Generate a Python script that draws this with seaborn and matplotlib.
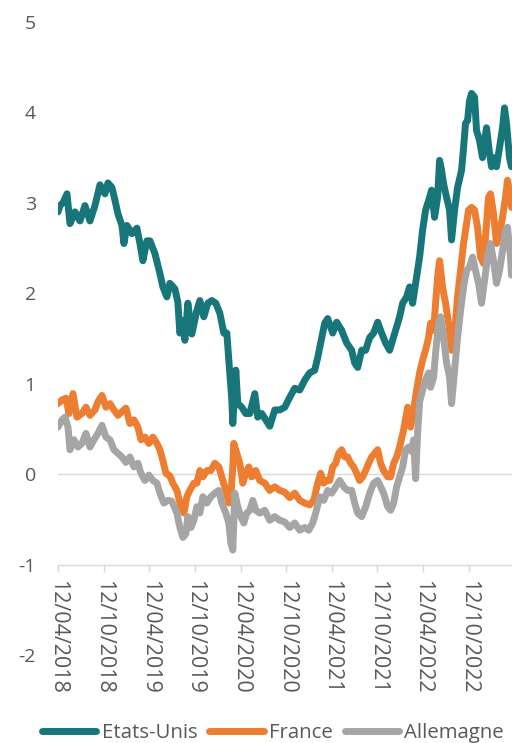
import pandas as pd
import numpy as np
import matplotlib
matplotlib.use('Agg')
import matplotlib.pyplot as plt
import matplotlib.dates as mdates
import seaborn as sns

# Taux souverains a 10 ans (%), lus sur le graphique
# jours comptes depuis le 12/04/2018
start = pd.Timestamp('2018-04-12')

us_days = [0, 8, 20, 36, 48, 68, 88, 108, 128, 148, 168, 188, 200, 216, 228, 240, 256, 264, 276,
           296, 316, 328, 340, 356, 368, 388, 408, 420, 436, 448, 468, 480, 488, 500, 508, 520,
           536, 556, 568, 584, 600, 616, 632, 648, 664, 676, 688, 696, 700, 712, 720, 736, 752,
           768, 788, 800, 816, 832, 848, 868, 888, 908, 928, 948, 968, 988, 1008, 1028, 1040,
           1056, 1068, 1080, 1100, 1116, 1136, 1156, 1176, 1188, 1200, 1216, 1232, 1248, 1264,
           1280, 1296, 1312, 1328, 1340, 1356, 1368, 1380, 1396, 1408, 1420, 1432, 1440, 1448,
           1460, 1472, 1488, 1496, 1508, 1520, 1528, 1536, 1544, 1556, 1568, 1576, 1588, 1600,
           1616, 1624, 1632, 1640, 1648, 1656, 1668, 1676, 1688, 1700, 1708, 1716, 1728, 1736,
           1744, 1756, 1768, 1780, 1788, 1796, 1808, 1816]
us_vals = [2.9, 2.97, 3.0, 3.1, 2.77, 2.9, 2.8, 2.97, 2.8, 2.97, 3.2, 3.1, 3.22, 3.17, 3.03, 2.88,
           2.75, 2.55, 2.75, 2.66, 2.72, 2.55, 2.36, 2.58, 2.58, 2.44, 2.22, 2.07, 1.96, 2.11,
           2.05, 1.9, 1.56, 1.7, 1.48, 1.89, 1.55, 1.81, 1.92, 1.74, 1.89, 1.92, 1.89, 1.78,
           1.56, 1.56, 1.12, 0.82, 0.56, 1.15, 0.78, 0.74, 0.67, 0.67, 0.89, 0.63, 0.67, 0.6,
           0.53, 0.71, 0.71, 0.74, 0.85, 0.95, 0.93, 1.04, 1.12, 1.15, 1.29, 1.51, 1.67, 1.72,
           1.56, 1.68, 1.59, 1.45, 1.37, 1.23, 1.18, 1.37, 1.37, 1.51, 1.56, 1.68, 1.56, 1.45,
           1.37, 1.48, 1.63, 1.74, 1.89, 1.96, 2.07, 1.89, 2.11, 2.25, 2.4, 2.7, 2.92, 3.06,
           3.14, 2.84, 3.06, 3.47, 3.36, 3.21, 3.06, 2.92, 2.59, 2.92, 3.17, 3.36, 3.61, 3.88,
           3.91, 4.13, 4.21, 4.17, 3.8, 3.69, 3.5, 3.69, 3.83, 3.55, 3.4, 3.5, 3.4, 3.61, 3.83,
           4.05, 3.88, 3.5, 3.4]

fr_days = [0, 16, 32, 44, 60, 76, 96, 112, 128, 148, 160, 176, 192, 208, 224, 240, 256, 272, 288,
           304, 320, 332, 348, 364, 380, 396, 408, 420, 432, 448, 460, 476, 492, 504, 516, 528,
           544, 556, 568, 580, 596, 612, 628, 644, 656, 672, 684, 692, 700, 704, 716, 728, 740,
           752, 764, 776, 792, 808, 828, 848, 868, 888, 908, 928, 948, 968, 988, 1008, 1024,
           1040, 1052, 1064, 1076, 1088, 1100, 1112, 1124, 1136, 1148, 1160, 1172, 1184, 1196,
           1208, 1220, 1232, 1244, 1256, 1268, 1280, 1292, 1304, 1320, 1332, 1344, 1356, 1368,
           1384, 1400, 1412, 1424, 1436, 1448, 1460, 1472, 1484, 1492, 1504, 1512, 1520, 1528,
           1540, 1552, 1564, 1576, 1588, 1600, 1612, 1624, 1636, 1644, 1656, 1668, 1680, 1692,
           1704, 1716, 1724, 1732, 1744, 1756, 1768, 1780, 1792, 1800, 1812, 1816]
fr_vals = [0.78, 0.82, 0.84, 0.67, 0.89, 0.63, 0.67, 0.74, 0.65, 0.71, 0.8, 0.87, 0.74, 0.78,
           0.71, 0.65, 0.69, 0.73, 0.56, 0.6, 0.52, 0.38, 0.41, 0.34, 0.41, 0.34, 0.27, 0.15,
           0.01, -0.02, -0.1, -0.18, -0.36, -0.43, -0.25, -0.18, -0.1, -0.1, 0.04, -0.03, 0.04,
           0.04, 0.12, 0.08, -0.03, -0.18, -0.32, -0.25, 0.08, 0.34, 0.23, 0.12, -0.1, 0.01,
           0.08, -0.03, 0.04, -0.07, -0.1, -0.18, -0.14, -0.18, -0.2, -0.26, -0.21, -0.29,
           -0.32, -0.34, -0.29, -0.1, 0.01, -0.1, -0.07, -0.07, 0.08, 0.12, 0.23, 0.27, 0.19,
           0.19, 0.12, 0.08, 0.01, -0.07, -0.03, 0.04, 0.12, 0.19, 0.23, 0.27, 0.12, 0.04,
           -0.03, -0.03, 0.12, 0.19, 0.3, 0.49, 0.74, 0.52, 0.71, 0.93, 1.12, 1.26, 1.37, 1.51,
           1.67, 1.59, 1.89, 2.18, 2.36, 2.07, 1.89, 1.67, 1.37, 1.56, 1.96, 2.25, 2.55, 2.77,
           2.92, 2.95, 2.92, 2.73, 2.4, 2.33, 2.77, 3.06, 3.1, 2.88, 2.55, 2.66, 2.84, 3.06,
           3.25, 3.06, 2.95]

de_days = [0, 16, 28, 40, 48, 64, 80, 96, 112, 128, 144, 160, 176, 192, 208, 224, 240, 256, 272,
           288, 304, 320, 332, 348, 364, 380, 396, 408, 424, 440, 456, 476, 488, 500, 512, 520,
           532, 544, 556, 568, 580, 596, 612, 628, 644, 656, 672, 684, 692, 700, 708, 720, 732,
           744, 756, 768, 780, 792, 808, 828, 848, 868, 888, 908, 928, 948, 968, 988, 1004,
           1020, 1032, 1048, 1064, 1080, 1096, 1112, 1128, 1144, 1160, 1176, 1188, 1200, 1216,
           1232, 1248, 1264, 1280, 1292, 1304, 1320, 1332, 1344, 1356, 1368, 1380, 1392, 1404,
           1416, 1424, 1432, 1440, 1448, 1460, 1472, 1484, 1492, 1504, 1512, 1524, 1532, 1544,
           1556, 1568, 1576, 1588, 1600, 1612, 1624, 1636, 1648, 1660, 1672, 1684, 1696, 1708,
           1720, 1732, 1744, 1756, 1768, 1780, 1792, 1800, 1812, 1816]
de_vals = [0.52, 0.6, 0.63, 0.52, 0.27, 0.38, 0.3, 0.34, 0.45, 0.3, 0.38, 0.45, 0.54, 0.41, 0.38,
           0.27, 0.23, 0.19, 0.13, 0.19, 0.08, 0.12, 0.01, -0.07, -0.01, -0.07, -0.1, -0.21,
           -0.32, -0.29, -0.3, -0.43, -0.59, -0.7, -0.66, -0.47, -0.59, -0.51, -0.36, -0.43,
           -0.25, -0.32, -0.25, -0.21, -0.18, -0.32, -0.43, -0.54, -0.76, -0.84, -0.21, -0.36,
           -0.47, -0.54, -0.43, -0.4, -0.29, -0.4, -0.43, -0.4, -0.51, -0.47, -0.51, -0.53,
           -0.59, -0.54, -0.62, -0.59, -0.62, -0.54, -0.43, -0.25, -0.29, -0.18, -0.21, -0.14,
           -0.07, -0.14, -0.18, -0.18, -0.32, -0.43, -0.47, -0.36, -0.21, -0.1, -0.07, -0.14,
           -0.21, -0.36, -0.4, -0.32, -0.14, -0.03, 0.08, 0.27, 0.3, 0.25, 0.38, -0.05, 0.45,
           0.8, 0.93, 1.04, 1.12, 0.96, 1.07, 1.34, 1.67, 1.74, 1.51, 1.23, 1.07, 0.78, 1.15,
           1.51, 1.81, 2.07, 2.25, 2.29, 2.4, 2.25, 2.11, 1.89, 2.14, 2.4, 2.55, 2.36, 2.11,
           2.25, 2.47, 2.7, 2.73, 2.4, 2.2]

series = ['Etats-Unis', 'France', 'Allemagne']
colors = ['#17767A', '#ED7D31', '#A5A5A5']

frames = []
for name, d, v in zip(series, [us_days, fr_days, de_days], [us_vals, fr_vals, de_vals]):
    frames.append(pd.DataFrame({'date': start + pd.to_timedelta(d, unit='D'),
                                'taux': v, 'pays': name}))
df = pd.concat(frames, ignore_index=True)

sns.set_theme(style='white')
plt.rcParams['font.family'] = ['Open Sans', 'DejaVu Sans']
plt.rcParams['axes.unicode_minus'] = False

fig = plt.figure(figsize=(5.12, 7.43), dpi=100)
ax = fig.add_axes([58 / 512, 1 - 655 / 743, 1 - 58 / 512, (655 - 22) / 743])

ax.axhline(0, color='#D9D9D9', lw=1, zorder=0)
sns.lineplot(data=df, x='date', y='taux', hue='pays', hue_order=series,
             palette=colors, estimator=None, sort=True, lw=5, ax=ax,
             solid_capstyle='round', solid_joinstyle='round')

ax.set_ylim(-2, 5)
ax.set_yticks(range(-2, 6))
ax.set_xlim(start, start + pd.Timedelta(days=1818))
ax.xaxis.set_major_locator(mdates.MonthLocator(bymonth=(4, 10), bymonthday=12))
ax.xaxis.set_major_formatter(mdates.DateFormatter('%d/%m/%Y'))

for s in ['top', 'right', 'left']:
    ax.spines[s].set_visible(False)
ax.spines['bottom'].set_position(('data', -1))
ax.spines['bottom'].set_color('#D9D9D9')
ax.spines['bottom'].set_linewidth(1)

ax.tick_params(axis='x', direction='out', length=5, width=1, color='#D9D9D9',
               labelcolor='#595959', labelsize=15.5, pad=6, bottom=True)
ax.tick_params(axis='y', length=0, labelcolor='#595959', labelsize=14, pad=16)
for lab in ax.get_xticklabels():
    lab.set_rotation(270)
    lab.set_va('top')
    lab.set_ha('center')
ax.set_xlabel('')
ax.set_ylabel('')
ax.grid(False)

handles, labels = ax.get_legend_handles_labels()
ax.get_legend().remove()
fig.legend(handles, labels, loc='center left', bbox_to_anchor=(24 / 512, 1 - 733 / 743),
           ncol=3, frameon=False, fontsize=14.7, labelcolor='#595959',
           handlelength=2.65, handletextpad=0.25, columnspacing=0.6)

fig.savefig('out.png', dpi=100)
